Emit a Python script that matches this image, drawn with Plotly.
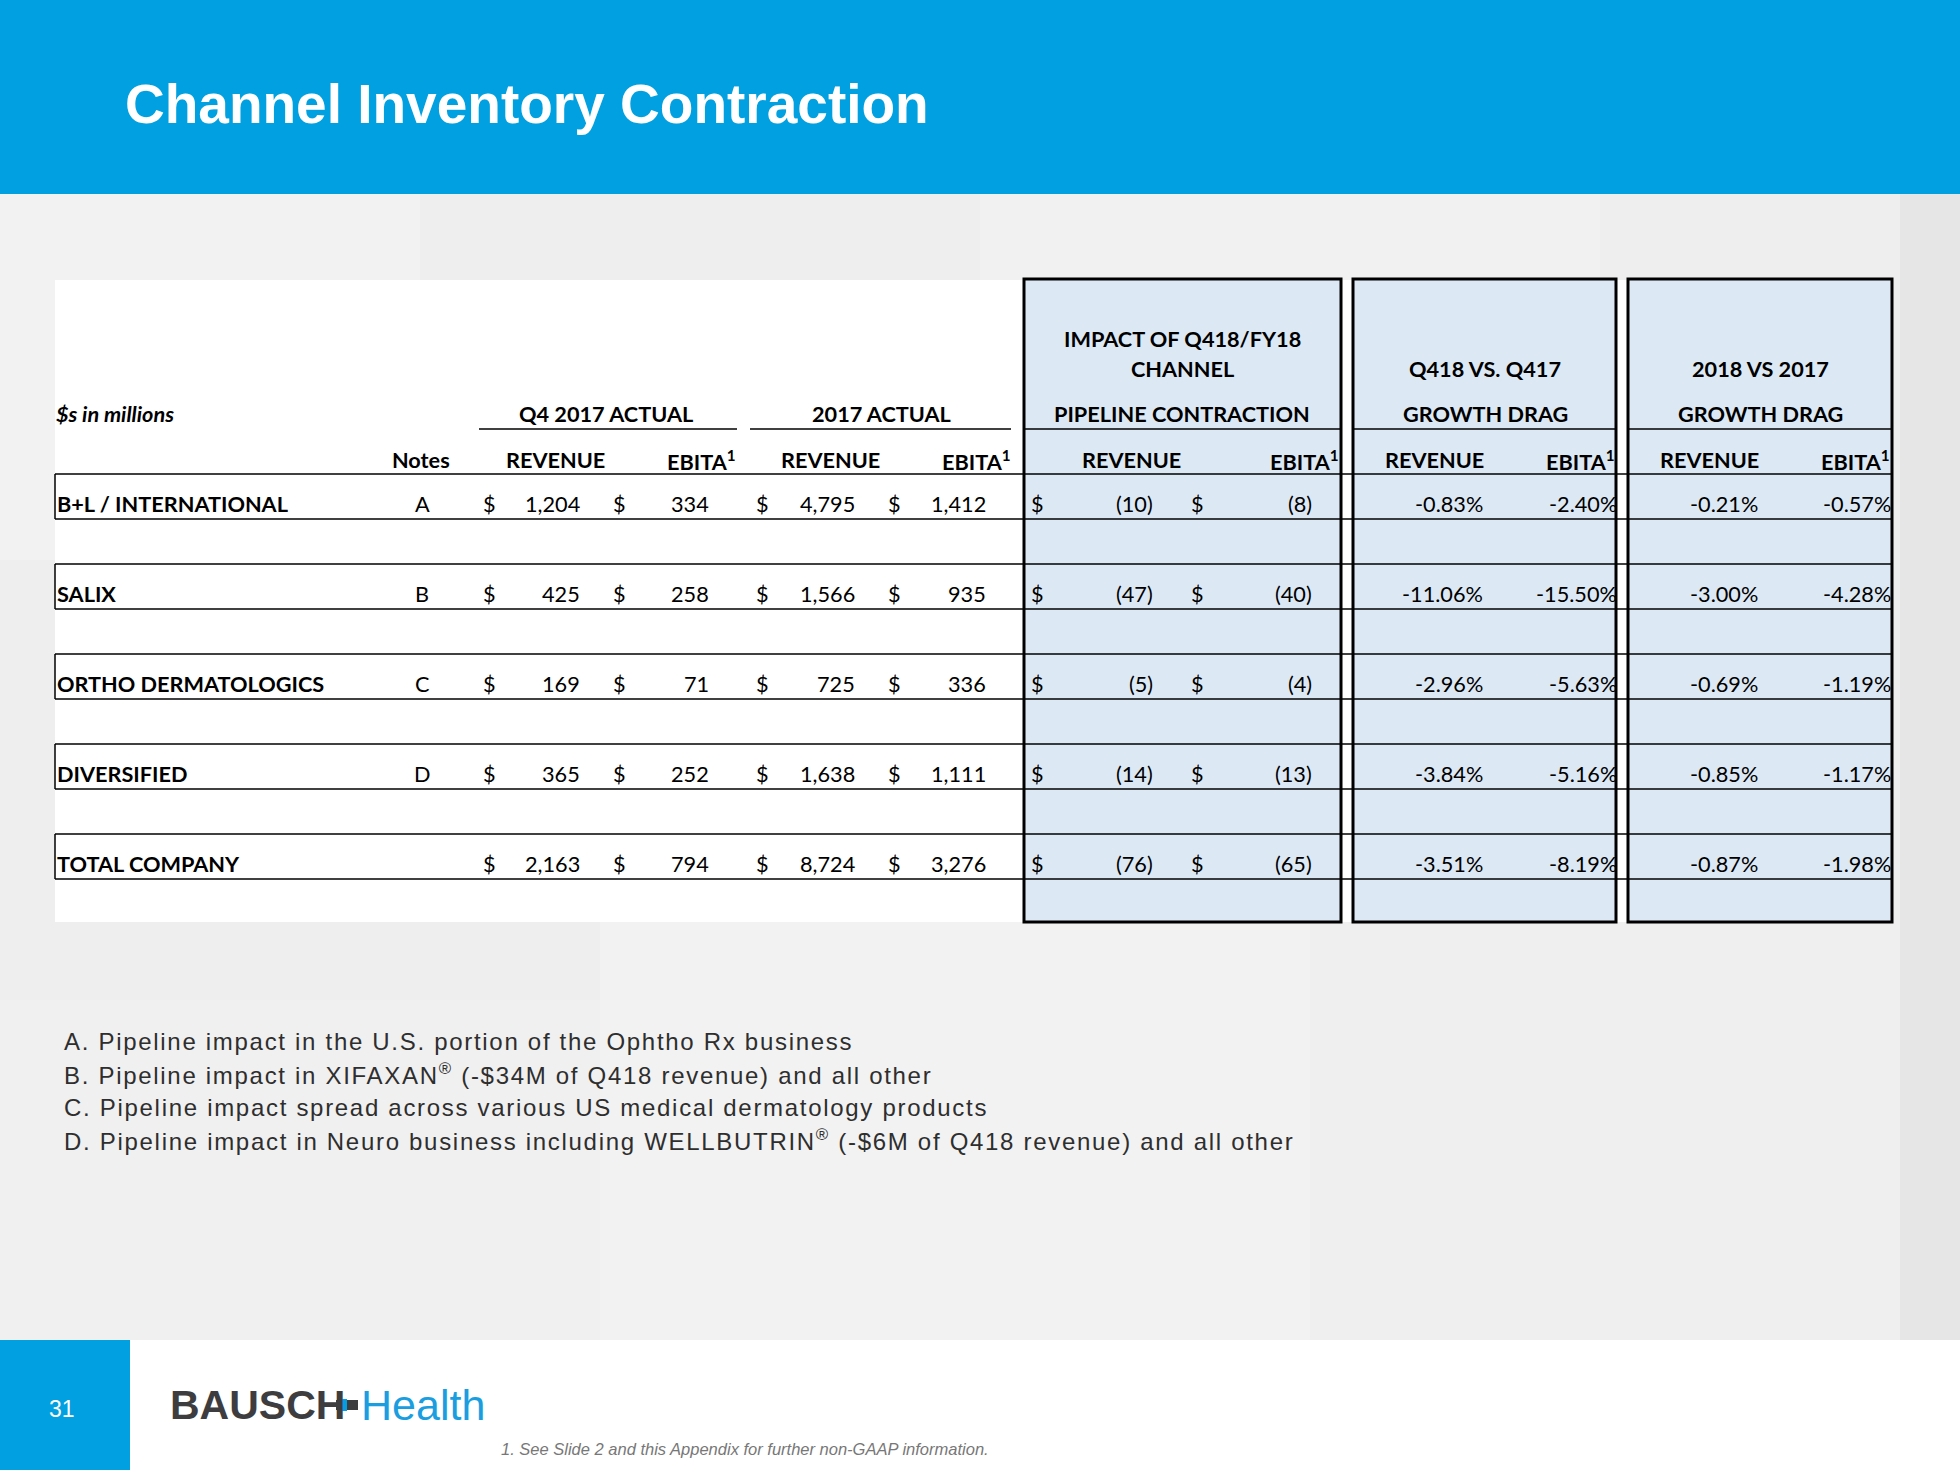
import plotly.graph_objects as go

# ---------------- data ----------------
segments = ["B+L / INTERNATIONAL", "SALIX", "ORTHO DERMATOLOGICS", "DIVERSIFIED", "TOTAL COMPANY"]
notes = ["A", "B", "C", "D", ""]
q4_2017_revenue = [1204, 425, 169, 365, 2163]
q4_2017_ebita = [334, 258, 71, 252, 794]
fy_2017_revenue = [4795, 1566, 725, 1638, 8724]
fy_2017_ebita = [1412, 935, 336, 1111, 3276]
impact_revenue = [-10, -47, -5, -14, -76]
impact_ebita = [-8, -40, -4, -13, -65]
q418_drag_revenue = [-0.83, -11.06, -2.96, -3.84, -3.51]
q418_drag_ebita = [-2.40, -15.50, -5.63, -5.16, -8.19]
fy18_drag_revenue = [-0.21, -3.00, -0.69, -0.85, -0.87]
fy18_drag_ebita = [-0.57, -4.28, -1.19, -1.17, -1.98]

footnotes = [
    "A. Pipeline impact in the U.S. portion of the Ophtho Rx business",
    "B. Pipeline impact in XIFAXAN<sup>®</sup> (-$34M of Q418 revenue) and all other",
    "C. Pipeline impact spread across various US medical dermatology products",
    "D. Pipeline impact in Neuro business including WELLBUTRIN<sup>®</sup> (-$6M of Q418 revenue) and all other",
]

# ---------------- styling ----------------
W, H = 1960, 1470
BLUE = "#00a0e1"
BOX_FILL = "#dce9f5"
TFONT = "Lato, Carlito, Calibri, sans-serif"
NFONT = "Liberation Sans, Arial, sans-serif"
FS = 21.7

fig = go.Figure()
shapes = []
ann = []


def rect(x0, y0, x1, y1, fill=None, line=None, lw=0, layer="below"):
    d = dict(type="rect", xref="x", yref="y", x0=x0, y0=y0, x1=x1, y1=y1, layer=layer,
             line=dict(width=lw, color=line or "rgba(0,0,0,0)"))
    d["fillcolor"] = fill if fill else "rgba(0,0,0,0)"
    shapes.append(d)


def hline(x0, x1, y, lw=1.5, color="#000", layer="above"):
    shapes.append(dict(type="line", xref="x", yref="y", x0=x0, x1=x1, y0=y, y1=y, layer=layer,
                       line=dict(width=lw, color=color)))


def vline(x, y0, y1, lw=1.5, color="#000", layer="above"):
    shapes.append(dict(type="line", xref="x", yref="y", x0=x, x1=x, y0=y0, y1=y1, layer=layer,
                       line=dict(width=lw, color=color)))


def text(x, y, s, size=FS, color="#000", anchor="left", bold=False, italic=False, family=TFONT, yanchor="middle"):
    if s == "":
        return
    ann.append(dict(x=x, y=y, xref="x", yref="y", text=s, showarrow=False, xanchor=anchor, yanchor=yanchor,
                    font=dict(family=family, size=size, color=color,
                              weight="bold" if bold else "normal",
                              style="italic" if italic else "normal"),
                    borderpad=0, borderwidth=0))


# ---------------- background ----------------
rect(0, 0, W, H, fill="#efefef")
tiles = [(0, 194, 420, 560, "#f2f2f2"), (420, 194, 980, 520, "#eeeeee"), (980, 194, 1600, 600, "#f1f1f1"),
         (1600, 194, 1900, 700, "#eeeeee"), (0, 560, 600, 1000, "#eeeeee"), (600, 900, 1310, 1340, "#f2f2f2"),
         (1310, 900, 1900, 1340, "#efefef"), (1900, 194, 1960, 1340, "#e6e6e6"), (0, 1000, 600, 1340, "#f0f0f0")]
for t in tiles:
    rect(t[0], t[1], t[2], t[3], fill=t[4])

# header band
rect(0, 0, W, 194, fill=BLUE)
text(125, 104, "Channel Inventory Contraction", size=55, color="white",
     bold=True, family="Liberation Sans, Arial, sans-serif")

# footer
rect(0, 1340, W, H, fill="white")
rect(0, 1340, 130, H, fill=BLUE)
text(62, 1409, "31", size=23, color="white", anchor="center", family="Liberation Sans, Arial")
text(170, 1405, "BAUSCH", size=41, color="#3d3d40", bold=True, family="Liberation Sans, Arial")
rect(336, 1400, 358, 1410, fill="#3d3d40", layer="above")
rect(337, 1399, 347, 1411, fill=BLUE, layer="above")
text(361, 1405, "Health", size=43, color="#1a9ee0", family="Liberation Sans, Arial")
text(501, 1449, "1. See Slide 2 and this Appendix for further non-GAAP information.", size=16.5, color="#777777",
     italic=True, family="Liberation Sans, Arial")

# ---------------- table geometry ----------------
TL, TR, TT, TB = 55, 1892, 280, 922
boxes = [(1024, 1341), (1353, 1616), (1628, 1892)]
rect(TL, TT, TR, TB, fill="white")
for bx0, bx1 in boxes:
    rect(bx0, TT - 1, bx1, TB, fill=BOX_FILL)

row_top0, row_h, row_step = 474, 45, 90
n = len(segments)
for i in range(n):
    yt = row_top0 + i * row_step
    hline(TL, TR, yt)
    hline(TL, TR, yt + row_h)
    vline(TL, yt, yt + row_h)

# header underlines
hline(479, 737, 429)
hline(750, 1011, 429)
for bx0, bx1 in boxes:
    hline(bx0, bx1, 429)
for bx0, bx1 in boxes:
    rect(bx0, TT - 1, bx1, TB, line="#000", lw=3, layer="above")

# ---------------- header text ----------------
text(1182, 339, "IMPACT OF Q418/FY18", bold=True, anchor="center")
text(1182, 369, "CHANNEL", bold=True, anchor="center")
text(1485, 369, "Q418 VS. Q417", bold=True, anchor="center")
text(1760, 369, "2018 VS 2017", bold=True, anchor="center")
text(56, 414, "$s in millions", bold=True, italic=True)
text(606, 414, "Q4 2017 ACTUAL", bold=True, anchor="center")
text(881, 414, "2017 ACTUAL", bold=True, anchor="center")
text(1182, 414, "PIPELINE CONTRACTION", bold=True, anchor="center")
text(1485, 414, "GROWTH DRAG", bold=True, anchor="center")
text(1760, 414, "GROWTH DRAG", bold=True, anchor="center")

text(421, 460, "Notes", bold=True, anchor="center")
rev_centers = [555, 830, 1131, 1434, 1709]
ebita_rights = [736, 1011, 1339, 1615, 1890]
for xc in rev_centers:
    text(xc, 460, "REVENUE", bold=True, anchor="center")
for xr in ebita_rights:
    text(xr, 460, "EBITA<sup>1</sup>", bold=True, anchor="right")

# ---------------- body ----------------
def money(v):
    return f"{v:,}" if v >= 0 else f"({abs(v):,})"


dollar_x = [483, 613, 756, 888, 1031, 1191]
value_right = [580, 709, 855, 986, 1153, 1312]
cols = [q4_2017_revenue, q4_2017_ebita, fy_2017_revenue, fy_2017_ebita, impact_revenue, impact_ebita]
pct_cols = [q418_drag_revenue, q418_drag_ebita, fy18_drag_revenue, fy18_drag_ebita]
pct_right = [1483, 1617, 1758, 1891]

for i in range(n):
    yc = row_top0 + i * row_step + 30
    text(57, yc, segments[i], bold=True)
    text(422, yc, notes[i], anchor="center")
    for c, col in enumerate(cols):
        text(dollar_x[c], yc, "$")
        text(value_right[c], yc, money(col[i]), anchor="right")
    for c, col in enumerate(pct_cols):
        text(pct_right[c], yc, f"{col[i]:.2f}%", anchor="right")

# ---------------- footnotes ----------------
for k, s in enumerate(footnotes):
    text(64, 1041 + k * 33, f'<span style="letter-spacing:1.7px">{s}</span>', size=24, color="#2e2e2e",
         family=NFONT)

fig.update_layout(
    width=W, height=H, margin=dict(l=0, r=0, t=0, b=0),
    paper_bgcolor="#efefef", plot_bgcolor="#efefef",
    xaxis=dict(range=[0, W], visible=False, fixedrange=True),
    yaxis=dict(range=[H, 0], visible=False, fixedrange=True),
    shapes=shapes, annotations=ann, showlegend=False,
)
fig.write_html("out.html", config={"displayModeBar": False},
               post_script="document.body.style.margin='0';document.body.style.padding='0';")
